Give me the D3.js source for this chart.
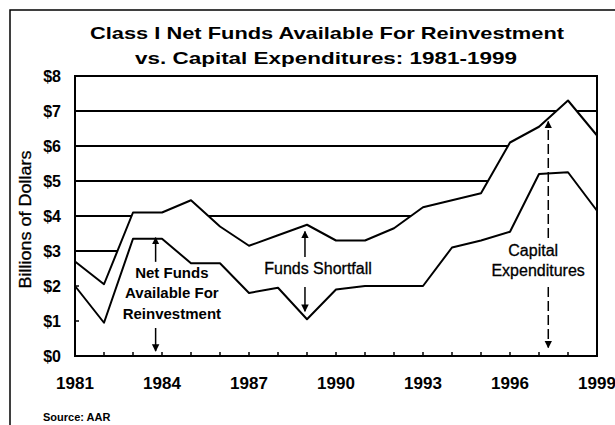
<!DOCTYPE html>
<html>
<head>
<meta charset="utf-8">
<script src="https://cdn.jsdelivr.net/npm/d3@7"></script>
<style>
  body { margin: 0; background: #fff; }
  svg text { font-family: 'Liberation Sans', Arial, sans-serif; fill: #000; }
</style>
</head>
<body>
<div id="chart"></div>
<script>
const years = d3.range(1981, 2000)
const capitalExpenditures = [2.7, 2.05, 4.1, 4.1, 4.45, 3.7, 3.15, 3.45, 3.75, 3.3, 3.3, 3.65, 4.25, 4.45, 4.65, 6.1, 6.55, 7.3, 6.3]
const netFunds = [2.0, 0.95, 3.35, 3.35, 2.65, 2.65, 1.8, 1.95, 1.05, 1.9, 2.0, 2.0, 2.0, 3.1, 3.3, 3.55, 5.2, 5.25, 4.15]
const xTickLabels = [1981, 1984, 1987, 1990, 1993, 1996, 1999]
const yTickLabels = [0, 1, 2, 3, 4, 5, 6, 7, 8]

const width = 615
const height = 425
const margin = { top: 76, left: 75, right: 18, bottom: 69 }

const svg = d3
  .select('#chart')
  .append('svg')
  .attr('width', width)
  .attr('height', height)

const x = d3.scaleLinear().domain([1981, 1999]).range([margin.left, width - margin.right])
const y = d3.scaleLinear().domain([0, 8]).range([height - margin.bottom, margin.top])

const capData = years.map((yr, i) => ({ year: yr, value: capitalExpenditures[i] }))
const netData = years.map((yr, i) => ({ year: yr, value: netFunds[i] }))

// outer box (only top + left edge visible in the scan)
svg.append('path')
  .attr('d', 'M10,425 L10,10 L615,10')
  .attr('fill', 'none')
  .attr('stroke', '#000')
  .attr('stroke-width', 1.5)

// title
svg.append('text')
  .attr('x', 327).attr('y', 39)
  .attr('text-anchor', 'middle')
  .attr('font-size', 17).attr('font-weight', 'bold')
  .attr('textLength', 474).attr('lengthAdjust', 'spacingAndGlyphs')
  .text('Class I Net Funds Available For Reinvestment')
svg.append('text')
  .attr('x', 326).attr('y', 64)
  .attr('text-anchor', 'middle')
  .attr('font-size', 17).attr('font-weight', 'bold')
  .attr('textLength', 382).attr('lengthAdjust', 'spacingAndGlyphs')
  .text('vs. Capital Expenditures: 1981-1999')

// gridlines
svg.selectAll('.grid')
  .data(yTickLabels.filter(d => d > 0 && d < 8))
  .enter()
  .append('line')
  .attr('class', 'grid')
  .attr('x1', x(1981)).attr('x2', x(1999))
  .attr('y1', d => y(d)).attr('y2', d => y(d))
  .attr('stroke', '#000')
  .attr('stroke-width', 2)

// white area under capital expenditures hides the gridlines
const area = d3.area()
  .x(d => x(d.year))
  .y0(y(0))
  .y1(d => y(d.value))
svg.append('path')
  .datum(capData)
  .attr('d', area)
  .attr('fill', '#fff')

// ticks
svg.selectAll('.xtick')
  .data(years)
  .enter()
  .append('line')
  .attr('class', 'xtick')
  .attr('x1', d => x(d)).attr('x2', d => x(d))
  .attr('y1', y(0)).attr('y2', y(0) - 4)
  .attr('stroke', '#000')
  .attr('stroke-width', 1.5)
svg.selectAll('.ytick')
  .data(yTickLabels)
  .enter()
  .append('line')
  .attr('class', 'ytick')
  .attr('x1', x(1981)).attr('x2', x(1981) + 4)
  .attr('y1', d => y(d)).attr('y2', d => y(d))
  .attr('stroke', '#000')
  .attr('stroke-width', 1.5)

// plot frame
svg.append('rect')
  .attr('x', x(1981)).attr('y', y(8))
  .attr('width', x(1999) - x(1981))
  .attr('height', y(0) - y(8))
  .attr('fill', 'none')
  .attr('stroke', '#000')
  .attr('stroke-width', 2)

// series lines
const line = d3.line()
  .x(d => x(d.year))
  .y(d => y(d.value))
svg.append('path')
  .datum(capData)
  .attr('d', line)
  .attr('fill', 'none')
  .attr('stroke', '#000')
  .attr('stroke-width', 2)
  .attr('stroke-linejoin', 'round')
svg.append('path')
  .datum(netData)
  .attr('d', line)
  .attr('fill', 'none')
  .attr('stroke', '#000')
  .attr('stroke-width', 2)
  .attr('stroke-linejoin', 'round')

// axis labels
svg.selectAll('.ylabel')
  .data(yTickLabels)
  .enter()
  .append('text')
  .attr('class', 'ylabel')
  .attr('x', 61)
  .attr('y', d => y(d))
  .attr('dy', '0.35em')
  .attr('text-anchor', 'end')
  .attr('font-size', 16).attr('font-weight', 'bold')
  .text(d => '$' + d)

svg.selectAll('.xlabel')
  .data(xTickLabels)
  .enter()
  .append('text')
  .attr('class', 'xlabel')
  .attr('x', d => x(d))
  .attr('y', 389)
  .attr('text-anchor', 'middle')
  .attr('font-size', 17).attr('font-weight', 'bold')
  .text(d => d)

svg.append('text')
  .attr('transform', 'translate(31,' + y(3.9) + ') rotate(-90)')
  .attr('text-anchor', 'middle')
  .attr('font-size', 16)
  .attr('stroke', '#000').attr('stroke-width', 0.3)
  .attr('textLength', 138).attr('lengthAdjust', 'spacingAndGlyphs')
  .text('Billions of Dollars')

svg.append('text')
  .attr('x', 43).attr('y', 421)
  .attr('font-size', 11).attr('font-weight', 'bold')
  .text('Source: AAR')

// arrow marker
svg.append('defs').append('marker')
  .attr('id', 'head')
  .attr('viewBox', '0 0 10 10')
  .attr('refX', 9).attr('refY', 5)
  .attr('markerWidth', 5).attr('markerHeight', 6)
  .attr('orient', 'auto')
  .append('path')
  .attr('d', 'M0,0 L10,5 L0,10 z')
  .attr('fill', '#000')

const arrows = [
  { year: 1983.78, from: 2.69, to: 3.38, dash: null },
  { year: 1983.78, from: 0.8, to: 0.14, dash: null },
  { year: 1988.93, from: 2.83, to: 3.56, dash: null },
  { year: 1988.93, from: 1.97, to: 1.28, dash: null },
  { year: 1997.32, from: 3.37, to: 6.7, dash: '10,4' },
  { year: 1997.32, from: 1.97, to: 0.24, dash: '10,4' }
]
svg.selectAll('.arrow')
  .data(arrows)
  .enter()
  .append('line')
  .attr('class', 'arrow')
  .attr('x1', d => x(d.year)).attr('x2', d => x(d.year))
  .attr('y1', d => y(d.from)).attr('y2', d => y(d.to))
  .attr('stroke', '#000')
  .attr('stroke-width', 1.5)
  .attr('stroke-dasharray', d => d.dash)
  .attr('marker-end', 'url(#head)')

// annotation texts
const notes = [
  { text: 'Net Funds', year: 1984.34, value: 2.38, bold: true, size: 15 },
  { text: 'Available For', year: 1984.34, value: 1.8, bold: true, size: 15 },
  { text: 'Reinvestment', year: 1984.34, value: 1.21, bold: true, size: 15 },
  { text: 'Funds Shortfall', year: 1989.38, value: 2.5, bold: false, size: 16 },
  { text: 'Capital', year: 1996.8, value: 3.02, bold: false, size: 16 },
  { text: 'Expenditures', year: 1996.97, value: 2.45, bold: false, size: 16 }
]
svg.selectAll('.note')
  .data(notes)
  .enter()
  .append('text')
  .attr('class', 'note')
  .attr('x', d => x(d.year))
  .attr('y', d => y(d.value))
  .attr('dy', '0.35em')
  .attr('text-anchor', 'middle')
  .attr('font-size', d => d.size)
  .attr('font-weight', d => (d.bold ? 'bold' : 'normal'))
  .attr('stroke', d => (d.bold ? 'none' : '#000'))
  .attr('stroke-width', 0.3)
  .text(d => d.text)
</script>
</body>
</html>
